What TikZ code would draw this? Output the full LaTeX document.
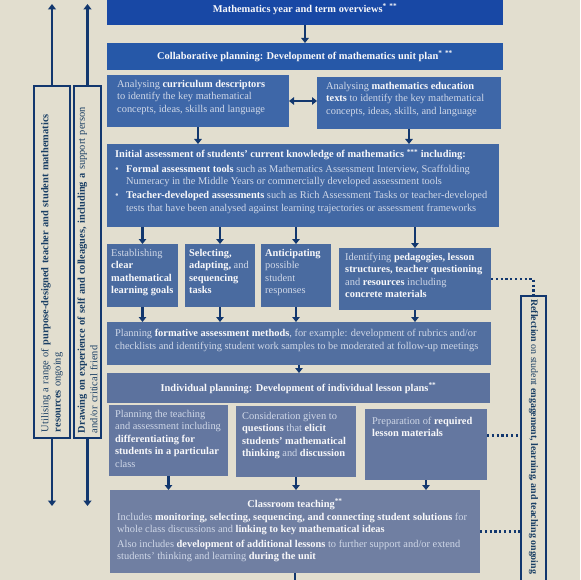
\documentclass[tikz,border=0pt]{standalone}
\usepackage{fontspec}
\setmainfont{Liberation Serif}
\usetikzlibrary{arrows.meta}
\definecolor{bg}{RGB}{226,222,207}
\definecolor{navy}{RGB}{18,55,110}
\definecolor{cTop}{RGB}{24,72,165}
\definecolor{cCol}{RGB}{38,88,168}
\definecolor{cAna}{RGB}{62,103,168}
\definecolor{cIni}{RGB}{66,104,164}
\definecolor{cFour}{RGB}{74,107,160}
\definecolor{cForm}{RGB}{82,111,160}
\definecolor{cInd}{RGB}{92,114,158}
\definecolor{cLes}{RGB}{100,119,160}
\definecolor{cCls}{RGB}{112,127,162}
\definecolor{regc}{RGB}{208,216,232}
\definecolor{boldc}{RGB}{248,248,250}
\definecolor{ltxt}{RGB}{25,62,100}
\newcommand{\bb}[1]{\textbf{\color{boldc}#1}}
\newcommand{\fs}{\fontsize{10.4}{12.4}\selectfont}
\begin{document}
\begin{tikzpicture}[x=1pt,y=-1pt,
 box/.style={anchor=north west, inner sep=0pt, outer sep=0pt},
 hdr/.style={box, font=\fs\bfseries, text=boldc, align=center},
 txt/.style={anchor=north west, inner sep=0pt, align=left, font=\fs, text=regc},
 vbox/.style={draw=navy, line width=1.6pt, fill=bg, inner sep=0pt, font=\fs, text=ltxt, align=left},
 arr/.style={draw=navy, line width=2.4pt, -{Triangle[width=7.5pt,length=5pt]}},
 larr/.style={draw=navy, line width=2.3pt, -{Triangle[width=8pt,length=5.5pt]}},
 darr/.style={draw=navy, line width=2.6pt, {Triangle[width=7.5pt,length=5pt]}-{Triangle[width=7.5pt,length=5pt]}},
 dotl/.style={draw=navy, line width=2.2pt, dash pattern=on 2.2pt off 2.6pt},
]
\useasboundingbox (0,0) rectangle (580,580);
\clip (0,0) rectangle (580,580);
\fill[bg] (0,0) rectangle (580,580);

\node[hdr, fill=cTop, minimum width=396pt, minimum height=32pt] (top) at (107,-7) {Mathematics year and term overviews\textsuperscript{*}~\textsuperscript{**}};
\node[hdr, fill=cCol, minimum width=396pt, minimum height=27pt] (col) at (107,43) {Collaborative planning: Development of mathematics unit plan\textsuperscript{*}~\textsuperscript{**}};

\node[box, fill=cAna, minimum width=182pt, minimum height=52pt] (A1) at (107,75) {};
\node[txt] (A1t) at ([shift={(10pt,-5pt)}]A1.north west) {Analysing \bb{curriculum descriptors}\\to identify the key mathematical\\concepts, ideas, skills and language};
\node[box, fill=cAna, minimum width=184pt, minimum height=52pt] (A2) at (317,77) {};
\node[txt] (A2t) at ([shift={(9pt,-5pt)}]A2.north west) {Analysing \bb{mathematics education}\\\bb{texts} to identify the key mathematical\\concepts, ideas, skills, and language};

\node[box, fill=cIni, minimum width=392pt, minimum height=83pt] (ini) at (107,144) {};
\node[txt] (init) at ([shift={(8pt,-5pt)}]ini.north west) {\bb{Initial assessment of students' current knowledge of mathematics \textsuperscript{***} including:}\\[2pt]
\makebox[11pt][l]{\textbullet}\bb{Formal assessment tools} such as Mathematics Assessment Interview, Scaffolding\\
\hspace*{11pt}Numeracy in the Middle Years or commercially developed assessment tools\\[2pt]
\makebox[11pt][l]{\textbullet}\bb{Teacher-developed assessments} such as Rich Assessment Tasks or teacher-developed\\
\hspace*{11pt}tests that have been analysed against learning trajectories or assessment frameworks};

\node[box, fill=cFour, minimum width=71pt, minimum height=63pt] (B1) at (107,244) {};
\node[txt] (B1t) at ([shift={(4pt,-5pt)}]B1.north west) {Establishing\\\bb{clear}\\\bb{mathematical}\\\bb{learning goals}};
\node[box, fill=cFour, minimum width=70pt, minimum height=63pt] (B2) at (185,244) {};
\node[txt] (B2t) at ([shift={(4pt,-5pt)}]B2.north west) {\bb{Selecting,}\\\bb{adapting,} and\\\bb{sequencing}\\\bb{tasks}};
\node[box, fill=cFour, minimum width=70pt, minimum height=63pt] (B3) at (261,244) {};
\node[txt] (B3t) at ([shift={(4pt,-5pt)}]B3.north west) {\bb{Anticipating}\\possible\\student\\responses};
\node[box, fill=cFour, minimum width=152pt, minimum height=62pt] (B4) at (339,248) {};
\node[txt] (B4t) at ([shift={(6pt,-5pt)}]B4.north west) {Identifying \bb{pedagogies, lesson}\\\bb{structures, teacher questioning}\\and \bb{resources} including\\\bb{concrete materials}};

\node[box, fill=cForm, minimum width=384pt, minimum height=43pt] (frm) at (107,322) {};
\node[txt] (frmt) at ([shift={(8pt,-7pt)}]frm.north west) {Planning \bb{formative assessment methods}, for example: development of rubrics and/or\\[1pt]checklists and identifying student work samples to be moderated at follow-up meetings};

\node[hdr, fill=cInd, minimum width=383pt, minimum height=30pt] (ind) at (107,373) {Individual planning: Development of individual lesson plans\textsuperscript{**}};

\node[box, fill=cLes, minimum width=119pt, minimum height=71pt] (C1) at (109,405) {};
\node[txt] (C1t) at ([shift={(6pt,-5pt)}]C1.north west) {Planning the teaching\\and assessment including\\\bb{differentiating for}\\\bb{students in a particular}\\class};
\node[box, fill=cLes, minimum width=120pt, minimum height=71pt] (C2) at (236,406) {};
\node[txt] (C2t) at ([shift={(6pt,-6pt)}]C2.north west) {Consideration given to\\\bb{questions} that \bb{elicit}\\\bb{students' mathematical}\\\bb{thinking} and \bb{discussion}};
\node[box, fill=cLes, minimum width=122pt, minimum height=71pt] (C3) at (365,409) {};
\node[txt] (C3t) at ([shift={(7pt,-8pt)}]C3.north west) {Preparation of \bb{required}\\\bb{lesson materials}};

\node[box, fill=cCls, minimum width=370pt, minimum height=83pt] (cls) at (110,490) {};
\node[font=\fs\bfseries, text=boldc, inner sep=0pt] (clsh) at ([yshift=-14pt]cls.north) {Classroom teaching\textsuperscript{**}};
\node[txt] (clst) at ([shift={(7pt,-23pt)}]cls.north west) {Includes \bb{monitoring, selecting, sequencing, and connecting student solutions} for\\whole class discussions and \bb{linking to key mathematical ideas}\\[2pt]Also includes \bb{development of additional lessons} to further support and/or extend\\students' thinking and learning \bb{during the unit}};

\node[vbox, rotate=90, minimum width=352pt, minimum height=36pt, inner xsep=6pt, text width=340pt] (L1) at (52,262) {Utilising a range of \textbf{purpose-designed teacher and student mathematics}\\\textbf{resources} ongoing};
\node[vbox, rotate=90, minimum width=352pt, minimum height=27pt, inner xsep=5pt, text width=342pt] (L2) at (87.5,262) {\textbf{Drawing on experience of self and colleagues, including a} support person\\and/or critical friend};

\node[vbox, rotate=-90, minimum width=310pt, minimum height=25pt] (R) at (533.5,451) {};
\node[rotate=-90, anchor=west, inner sep=0pt, font=\fontsize{9.9}{12}\selectfont, text=ltxt] (Rt) at ([yshift=-4pt]R.west) {\textbf{Reflection} on student \textbf{engagement, learning, and teaching ongoing}};

\draw[arr] (top.south) -- (col.north);
\draw[darr] (A1.east) -- (A1.east -| A2.west);
\draw[arr] (A1.south) -- (A1.south |- ini.north);
\draw[arr] (A2.south) -- (A2.south |- ini.north);
\foreach \b in {B1,B2,B3,B4} {
  \draw[arr] (\b.north |- ini.south) -- (\b.north);
  \draw[arr] (\b.south) -- (\b.south |- frm.north);
}
\draw[arr] (frm.south) -- (frm.south |- ind.north);
\foreach \c in {C1,C2,C3} { \draw[arr] (\c.south) -- (\c.south |- cls.north); }
\coordinate (clsdn) at (295,594);
\draw[arr] (cls.south) -- (clsdn);

\coordinate (L1up) at (52,4);
\coordinate (L2up) at (87.5,4);
\coordinate (L1dn) at (52,506);
\coordinate (L2dn) at (87.5,506);
\draw[larr] (L1.east) -- (L1up);
\draw[larr] (L2.east) -- (L2up);
\draw[larr] (L1.west) -- (L1dn);
\draw[larr] (L2.west) -- (L2dn);

\draw[dotl] (B4.east) -| (R.west);
\coordinate (c3d) at ([yshift=9pt]C3.east);
\draw[dotl] (c3d) -- (c3d -| R.south);
\draw[dotl] (cls.east) -- (cls.east -| R.south);
\end{tikzpicture}
\end{document}
